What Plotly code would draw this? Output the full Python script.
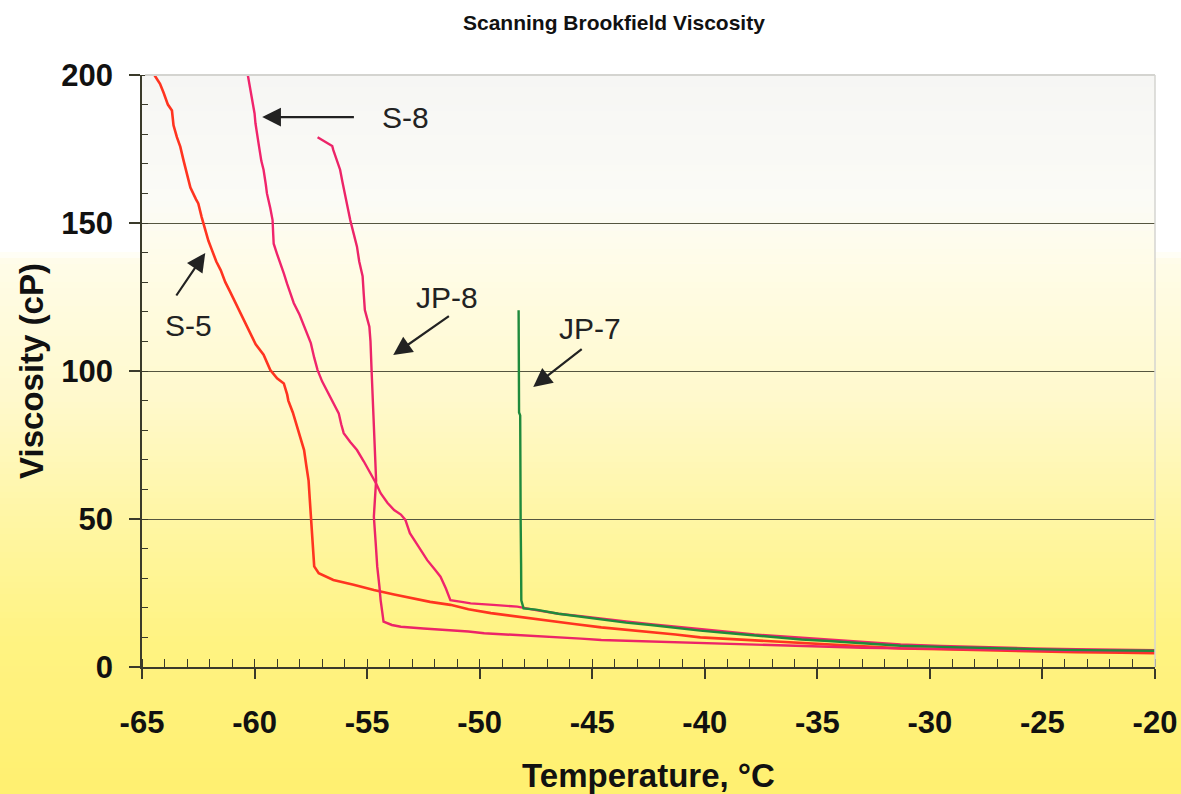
import plotly.graph_objects as go

# ---------------- data ----------------
s5_x = [-64.45, -64.2, -64.04, -63.85, -63.67, -63.6, -63.45, -63.3, -63.15, -63.08, -62.9, -62.85, -62.6,
        -62.5, -62.35, -62.2, -62.05, -61.9, -61.7, -61.5, -61.3, -61.1, -60.85, -60.6, -60.4, -60.2, -59.95,
        -59.6, -59.3, -59.0, -58.7, -58.55, -58.5, -58.3, -58.2, -58.0, -57.8, -57.7, -57.6, -57.55, -57.5,
        -57.45, -57.4, -57.35, -57.15, -56.8, -56.5, -55.6, -54.7, -53.8, -53.0, -52.2, -51.3, -50.5, -49.5,
        -48.5, -47.5, -46.85, -45.8, -44.6, -43.5, -42.4, -41.3, -40.2, -39.0, -37.8, -36.5, -35.7, -34.5,
        -33.0, -31.3, -29.5, -27.5, -25.5, -23.5, -21.5, -20.0]
s5_y = [200, 197, 194, 190, 188, 183, 179, 175.8, 171, 169, 164, 162, 158,
        156.6, 152, 147.6, 144, 141, 137, 134, 130, 127, 123, 119.5, 116, 113, 109,
        105.5, 100.3, 97.5, 95.8, 92, 90, 86, 83.4, 78, 73.3, 68, 63, 57, 50.8,
        44, 38.4, 34, 31.7, 30.5, 29.4, 27.8, 26, 24.5, 23.2, 22.0, 21, 19.5, 18.2,
        17.2, 16.2, 15.3, 14.5, 13.4, 12.6, 11.9, 11.0, 10.0, 9.5, 8.8, 8.4, 8.0, 7.5,
        7.0, 6.3, 6.0, 5.6, 5.3, 5.0, 4.8, 4.7]

s8_x = [-60.3, -60.2, -60.1, -60.0, -59.96, -59.88, -59.8, -59.7, -59.6, -59.5, -59.45, -59.3, -59.2,
        -59.17, -59.15, -59.0, -58.85, -58.7, -58.56, -58.4, -58.26, -58.0, -57.8, -57.6, -57.5, -57.35,
        -57.2, -57.0, -56.8, -56.5, -56.26, -56.15, -56.04, -55.75, -55.45, -55.15, -54.85, -54.6, -54.4,
        -54.1, -53.8, -53.5, -53.3, -53.15, -53.1, -52.7, -52.33, -52.0, -51.74, -51.5, -51.3, -50.8,
        -50.4, -49.4, -48.33, -47.5, -46.5, -45.5, -44.6, -43.5, -42.4, -41.3, -40.2, -39.0, -37.8,
        -36.7, -35.7, -34.5, -33.0, -31.3, -29.5, -27.5, -25.5, -23.5, -21.5, -20.0]
s8_y = [200, 196, 191.6, 187, 183.7, 179, 175.8, 171, 168, 163, 160, 155, 151,
        146, 143, 139.5, 136.4, 133, 129.6, 126, 123, 119, 115, 111, 109.4, 104.5,
        100.3, 96.5, 93.6, 89.5, 85.7, 82, 79, 76, 73.3, 69.5, 65.4, 62, 58.7,
        55.5, 53, 51.5, 49.7, 46, 45.2, 40.5, 36.1, 33, 30.5, 26.5, 22.6, 22.0,
        21.5, 21.0, 20.4, 19.2, 18.0, 17.2, 16.5, 15.4, 14.5, 13.6, 12.8, 11.9, 11.0,
        10.4, 9.8, 9.2, 8.5, 7.6, 7.1, 6.6, 6.3, 6.0, 5.8, 5.7]

jp8_x = [-57.2, -56.9, -56.55, -56.5, -56.35, -56.2, -56.1, -56.0, -55.85, -55.75, -55.6, -55.45, -55.35,
         -55.2, -55.15, -55.1, -54.9, -54.85, -54.8, -54.75, -54.7, -54.65, -54.6, -54.65, -54.7, -54.62,
         -54.55, -54.45, -54.4, -54.3, -54.27, -53.9, -53.5, -52.5, -51.5, -50.5, -49.8, -48.5, -46.85,
         -45.5, -44.6, -42.4, -40.2, -38.0, -35.7, -33.0, -31.3, -29.0, -26.5, -24.0, -22.0, -20.0]
jp8_y = [179, 177.5, 176, 174.6, 171, 168, 164, 160, 155, 151, 146.5, 142, 137,
         132, 126, 120.6, 115, 110, 100, 90, 79, 70, 63, 57, 50.8, 42,
         33.9, 27, 22.6, 17, 15.3, 14.2, 13.6, 13.0, 12.6, 12.0, 11.4, 10.9, 10.2,
         9.6, 9.1, 8.6, 8.0, 7.4, 6.9, 6.5, 6.3, 6.0, 5.7, 5.5, 5.4, 5.4]

jp7_x = [-48.27, -48.26, -48.25, -48.25, -48.25, -48.2, -48.2, -48.18, -48.16, -48.15, -48.05, -47.5,
         -46.5, -45.5, -44.6, -43.5, -42.4, -41.3, -40.2, -39.0, -37.8, -36.7, -35.7, -34.5, -33.0,
         -31.3, -29.5, -27.5, -25.5, -24.0, -22.0, -20.0]
jp7_y = [120.5, 110, 100, 90, 86, 85, 70, 50, 35, 22.5, 19.8, 19.4,
         18.0, 17.0, 16.0, 15.0, 14.2, 13.2, 12.3, 11.5, 10.7, 10.0, 9.3, 8.8, 8.1,
         7.2, 6.8, 6.4, 6.0, 5.8, 5.6, 5.5]

x_ticks = [-65, -60, -55, -50, -45, -40, -35, -30, -25, -20]
y_ticks = [0, 50, 100, 150, 200]

labels = ["S-8", "S-5", "JP-8", "JP-7"]
label_pos = [(-53.3, 185.8), (-62.94, 115.5), (-51.44, 124.7), (-45.09, 114.5)]
arrow_tail = [(-55.52, 185.8), (-63.52, 125.0), (-51.3, 118.9), (-45.4, 107.8)]
arrow_head = [(-59.66, 185.8), (-62.19, 139.9), (-53.84, 105.4), (-47.62, 94.6)]

# ---------------- figure ----------------
W, H = 1181, 794
ML, MR, MT, MB = 142, 26, 75, 127
PH = H - MT - MB

FONT = "Liberation Sans, Arial, Helvetica, sans-serif"


def hex2rgb(h):
    h = h.lstrip('#')
    return tuple(int(h[i:i + 2], 16) for i in (0, 2, 4))


def interp(stops, py):
    for (p0, c0), (p1, c1) in zip(stops, stops[1:]):
        if p0 <= py <= p1:
            t = (py - p0) / (p1 - p0) if p1 > p0 else 0
            a, b = hex2rgb(c0), hex2rgb(c1)
            return 'rgb(%d,%d,%d)' % tuple(round(a[i] + (b[i] - a[i]) * t) for i in range(3))
    return stops[-1][1] if py > stops[-1][0] else stops[0][1]


def py2paper(py):
    return (H - MB - py) / PH


shapes = []
full_stops = [(0, '#ffffff'), (250, '#ffffff'), (262, '#fffce8'), (400, '#fff9cc'),
              (520, '#fff6a4'), (640, '#fff382'), (794, '#fff070')]
step = 6
for py in range(0, H, step):
    shapes.append(dict(type='rect', xref='paper', yref='paper', x0=-0.2, x1=1.1,
                       y0=py2paper(py + step + 0.5), y1=py2paper(py), line=dict(width=0),
                       fillcolor=interp(full_stops, py + step / 2), layer='below'))
plot_stops = [(75, '#f6f6f4'), (200, '#fbfbf6'), (262, '#fffce8')]
for py in range(75, 262, step):
    shapes.append(dict(type='rect', xref='paper', yref='paper', x0=0, x1=1,
                       y0=py2paper(min(py + step + 0.5, 262)), y1=py2paper(py), line=dict(width=0),
                       fillcolor=interp(plot_stops, py + step / 2), layer='below'))
# light frame on top and right
shapes.append(dict(type='line', xref='x domain', yref='y domain', x0=0.003, x1=1, y0=1, y1=1,
                   line=dict(color='#d4d4d0', width=2), layer='above'))
shapes.append(dict(type='line', xref='x domain', yref='y domain', x0=1, x1=1, y0=0, y1=1,
                   line=dict(color='#d4d4d0', width=1.5), layer='above'))

fig = go.Figure()
fig.add_trace(go.Scatter(x=s5_x, y=s5_y, mode='lines', name='S-5',
                         line=dict(color='#ff3420', width=2.6)))
fig.add_trace(go.Scatter(x=jp8_x, y=jp8_y, mode='lines', name='JP-8',
                         line=dict(color='#ec2468', width=2.4)))
fig.add_trace(go.Scatter(x=s8_x, y=s8_y, mode='lines', name='S-8',
                         line=dict(color='#f0246c', width=2.4)))
fig.add_trace(go.Scatter(x=jp7_x, y=jp7_y, mode='lines', name='JP-7',
                         line=dict(color='#1f8a3c', width=2.4)))

annotations = [dict(text='Scanning Brookfield Viscosity', xref='paper', yref='paper',
                    x=(614 - ML) / (W - ML - MR), y=py2paper(22), xanchor='center', yanchor='middle',
                    showarrow=False,
                    font=dict(family=FONT, size=21, color='#111111', weight='bold'))]
for t, (lx, ly) in zip(labels, label_pos):
    annotations.append(dict(text=t, x=lx, y=ly, xref='x', yref='y', showarrow=False,
                            font=dict(family=FONT, size=30, color='#222222')))
for (tx, ty), (hx, hy) in zip(arrow_tail, arrow_head):
    annotations.append(dict(text='', x=hx, y=hy, ax=tx, ay=ty, xref='x', yref='y',
                            axref='x', ayref='y', showarrow=True, arrowhead=2,
                            arrowsize=1.7, arrowwidth=2.2, arrowcolor='#222222'))

fig.update_layout(
    width=W, height=H,
    margin=dict(l=ML, r=MR, t=MT, b=MB, autoexpand=False),
    paper_bgcolor='#ffffff', plot_bgcolor='rgba(0,0,0,0)',
    showlegend=False,
    shapes=shapes, annotations=annotations,
    font=dict(family=FONT, color='#111111'),
)
fig.update_xaxes(
    range=[-65, -20], tickvals=x_ticks, ticktext=[str(v) for v in x_ticks],
    automargin=False,
    showgrid=False, zeroline=False,
    showline=True, linecolor='#3a3a2a', linewidth=1.5,
    ticks='outside', ticklen=10, tickwidth=1.5, tickcolor='#3a3a2a',
    ticklabelstandoff=17,
    tickfont=dict(family=FONT, size=31, color='#111111', weight='bold'),
    minor=dict(dtick=1, ticks='inside', ticklen=8, tickwidth=1.2, tickcolor='#3a3a2a', showgrid=False),
    title=dict(text='Temperature, °C', standoff=28,
               font=dict(family=FONT, size=33, color='#111111', weight='bold')),
)
fig.update_yaxes(
    range=[0, 200], tickvals=y_ticks, ticktext=[str(v) for v in y_ticks],
    automargin=False,
    showgrid=True, gridcolor='#55553f', gridwidth=1, zeroline=False,
    showline=True, linecolor='#3a3a2a', linewidth=1.5,
    ticks='outside', ticklen=11, tickwidth=1.5, tickcolor='#3a3a2a',
    ticklabelstandoff=10,
    tickfont=dict(family=FONT, size=31, color='#111111', weight='bold'),
    minor=dict(dtick=10, ticks='inside', ticklen=6, tickwidth=1.2, tickcolor='#3a3a2a', showgrid=False),
    title=dict(text='Viscosity (cP)', standoff=8,
               font=dict(family=FONT, size=33, color='#111111', weight='bold')),
)

fig.write_html("out.html")
